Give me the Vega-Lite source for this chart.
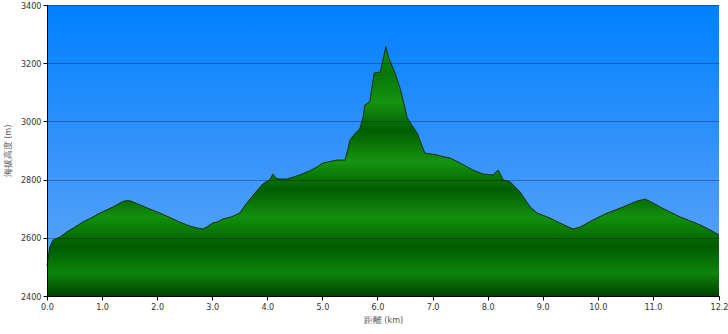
{
  "$schema": "https://vega.github.io/schema/vega-lite/v6.json",
  "width": 672,
  "height": 291,
  "autosize": "none",
  "padding": {"left": 47, "top": 5, "right": 9, "bottom": 38},
  "background": "#ffffff",
  "config": {
    "view": {"stroke": null},
    "font": "Liberation Sans Narrow, DejaVu Sans Condensed, Liberation Sans, sans-serif"
  },
  "data": {"values": [
    {"km": 0.00, "elev": 2505}, {"km": 0.02, "elev": 2530}, {"km": 0.05, "elev": 2568}, {"km": 0.11, "elev": 2592},
    {"km": 0.24, "elev": 2603}, {"km": 0.36, "elev": 2620}, {"km": 0.50, "elev": 2636}, {"km": 0.65, "elev": 2654},
    {"km": 0.80, "elev": 2668}, {"km": 0.96, "elev": 2685}, {"km": 1.20, "elev": 2706}, {"km": 1.35, "elev": 2722},
    {"km": 1.42, "elev": 2727}, {"km": 1.51, "elev": 2727}, {"km": 1.69, "elev": 2713}, {"km": 1.85, "elev": 2700},
    {"km": 2.05, "elev": 2685}, {"km": 2.25, "elev": 2668}, {"km": 2.41, "elev": 2654}, {"km": 2.60, "elev": 2640},
    {"km": 2.72, "elev": 2634}, {"km": 2.83, "elev": 2630}, {"km": 2.90, "elev": 2637}, {"km": 3.01, "elev": 2651},
    {"km": 3.10, "elev": 2655}, {"km": 3.20, "elev": 2665}, {"km": 3.35, "elev": 2672}, {"km": 3.50, "elev": 2685},
    {"km": 3.63, "elev": 2720}, {"km": 3.78, "elev": 2755}, {"km": 3.92, "elev": 2785}, {"km": 4.05, "elev": 2800},
    {"km": 4.10, "elev": 2819}, {"km": 4.16, "elev": 2804}, {"km": 4.23, "elev": 2802}, {"km": 4.36, "elev": 2802},
    {"km": 4.59, "elev": 2816}, {"km": 4.77, "elev": 2830}, {"km": 4.90, "elev": 2843}, {"km": 5.01, "elev": 2857},
    {"km": 5.26, "elev": 2867}, {"km": 5.41, "elev": 2867}, {"km": 5.46, "elev": 2902}, {"km": 5.50, "elev": 2936},
    {"km": 5.60, "elev": 2960}, {"km": 5.68, "elev": 2975}, {"km": 5.74, "elev": 3015}, {"km": 5.77, "elev": 3056},
    {"km": 5.86, "elev": 3067}, {"km": 5.94, "elev": 3166}, {"km": 6.05, "elev": 3170}, {"km": 6.14, "elev": 3245},
    {"km": 6.15, "elev": 3257}, {"km": 6.20, "elev": 3220}, {"km": 6.32, "elev": 3166}, {"km": 6.42, "elev": 3108},
    {"km": 6.54, "elev": 3012}, {"km": 6.63, "elev": 2985}, {"km": 6.72, "elev": 2960}, {"km": 6.86, "elev": 2891},
    {"km": 7.08, "elev": 2885}, {"km": 7.14, "elev": 2881}, {"km": 7.32, "elev": 2874}, {"km": 7.50, "elev": 2857},
    {"km": 7.73, "elev": 2833}, {"km": 7.92, "elev": 2819}, {"km": 8.10, "elev": 2816}, {"km": 8.19, "elev": 2833},
    {"km": 8.28, "elev": 2799}, {"km": 8.41, "elev": 2792}, {"km": 8.59, "elev": 2757}, {"km": 8.77, "elev": 2706},
    {"km": 8.90, "elev": 2685}, {"km": 9.13, "elev": 2668}, {"km": 9.31, "elev": 2651}, {"km": 9.55, "elev": 2630},
    {"km": 9.68, "elev": 2637}, {"km": 9.91, "elev": 2661}, {"km": 10.17, "elev": 2685}, {"km": 10.46, "elev": 2706},
    {"km": 10.71, "elev": 2726}, {"km": 10.86, "elev": 2733}, {"km": 11.00, "elev": 2720}, {"km": 11.13, "elev": 2706},
    {"km": 11.49, "elev": 2672}, {"km": 11.86, "elev": 2644}, {"km": 12.04, "elev": 2627}, {"km": 12.20, "elev": 2610}
  ]},
  "layer": [
    {
      "mark": {
        "type": "rect",
        "color": {
          "gradient": "linear", "x1": 0, "y1": 0, "x2": 0, "y2": 1,
          "stops": [
            {"offset": 0, "color": "#0080ff"},
            {"offset": 0.5, "color": "#3593fb"},
            {"offset": 1, "color": "#62a8f4"}
          ]
        }
      },
      "encoding": {
        "x": {"datum": 0, "type": "quantitative"},
        "x2": {"datum": 12.2},
        "y": {"datum": 3400, "type": "quantitative"},
        "y2": {"datum": 2400}
      }
    },
    {
      "mark": {
        "type": "area",
        "interpolate": "linear",
        "opacity": 1,
        "clip": true,
        "fill": {
          "gradient": "linear", "x1": 0, "y1": 0, "x2": 0, "y2": 1,
          "stops": [
            {"offset": 0.0, "color": "#148f12"},
            {"offset": 0.107, "color": "#08760a"},
            {"offset": 0.224, "color": "#15930f"},
            {"offset": 0.335, "color": "#005d00"},
            {"offset": 0.463, "color": "#16940f"},
            {"offset": 0.574, "color": "#005d00"},
            {"offset": 0.685, "color": "#13900d"},
            {"offset": 0.802, "color": "#005a00"},
            {"offset": 0.907, "color": "#0c850b"},
            {"offset": 1.0, "color": "#004200"}
          ]
        }
      },
      "encoding": {
        "x": {
          "field": "km", "type": "quantitative",
          "scale": {"domain": [0, 12.2], "nice": false, "zero": false},
          "axis": {
            "values": [0, 1, 2, 3, 4, 5, 6, 7, 8, 9, 10, 11, 12.2],
            "format": ".1f",
            "title": "距離  (km)",
            "grid": false,
            "domainColor": "#000000",
            "tickColor": "#000000",
            "tickSize": 4,
            "labelFontSize": 9,
            "labelColor": "#333333",
            "labelPadding": 2,
            "labelFlush": false,
            "titleFontSize": 9,
            "titleFontWeight": "normal",
            "titleColor": "#555555",
            "titlePadding": 4
          }
        },
        "y": {
          "field": "elev", "type": "quantitative",
          "scale": {"domain": [2400, 3400], "nice": false, "zero": false},
          "axis": {
            "values": [2400, 2500, 2600, 2700, 2800, 2900, 3000, 3100, 3200, 3300, 3400],
            "format": "d",
            "title": "海拔高度 (m)",
            "grid": true,
            "gridColor": "#000022",
            "gridOpacity": 0.3,
            "gridWidth": 1,
            "zindex": 1,
            "domainColor": "#000000",
            "tickColor": "#000000",
            "tickSize": 4,
            "labelFontSize": 9,
            "labelColor": "#333333",
            "labelPadding": 2,
            "labelFlush": false,
            "titleFontSize": 9,
            "titleFontWeight": "normal",
            "titleColor": "#555555",
            "titlePadding": 8
          }
        },
        "y2": {"datum": 2400}
      }
    },
    {
      "mark": {"type": "line", "color": "#0a300a", "strokeWidth": 1, "interpolate": "linear"},
      "encoding": {
        "x": {"field": "km", "type": "quantitative"},
        "y": {"field": "elev", "type": "quantitative"}
      }
    }
  ]
}
